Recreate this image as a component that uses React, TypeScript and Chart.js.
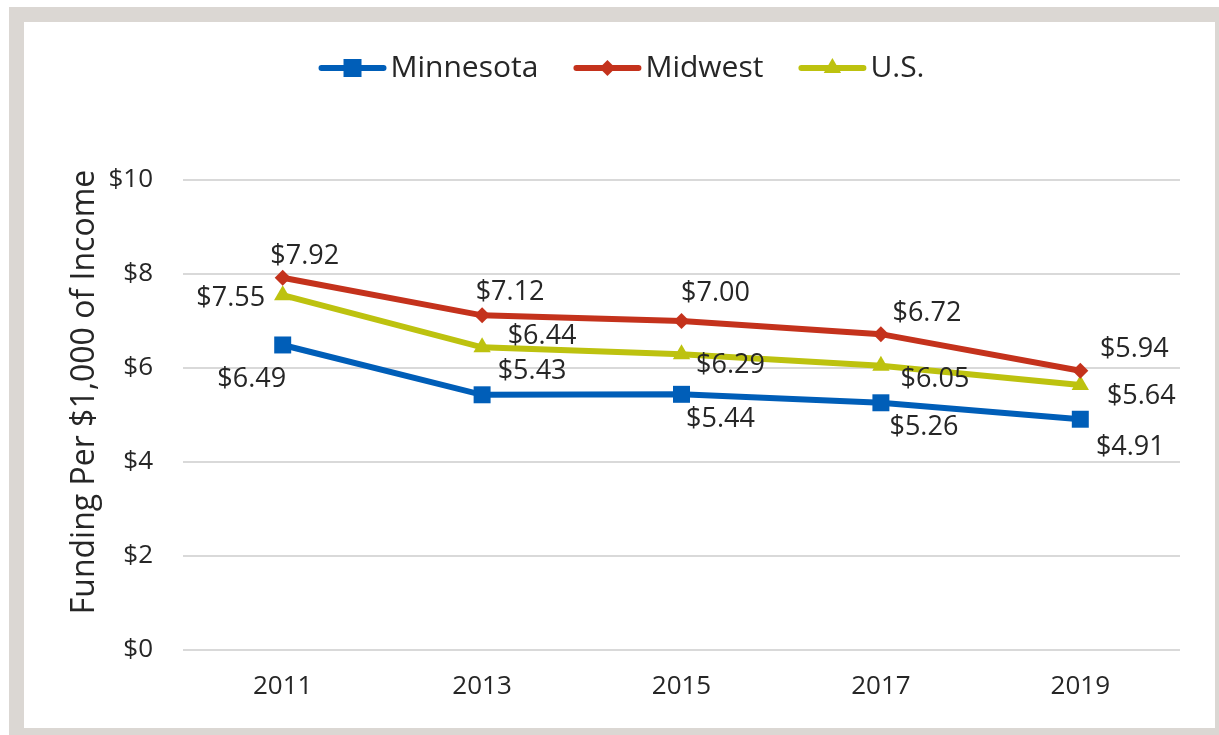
import React, { useEffect, useRef } from 'react';
import { Chart, registerables } from 'chart.js';

Chart.register(...registerables);

const categories = ['2011', '2013', '2015', '2017', '2019'];
const minnesota = [6.49, 5.43, 5.44, 5.26, 4.91];
const midwest = [7.92, 7.12, 7.0, 6.72, 5.94];
const usValues = [7.55, 6.44, 6.29, 6.05, 5.64];
const seriesNames = ['Minnesota', 'Midwest', 'U.S.'];
const yTitle = 'Funding Per $1,000 of Income';

// data-label offsets (px) from each point
const mnOffsets = [[-31, 34], [50, -23], [39, 25], [43, 25], [50, 28]];
const mwOffsets = [[22, -21], [28, -23], [34, -28], [46, -21], [54, -22]];
const usOffsets = [[-52, 3], [60, -11], [49, 11], [54, 14], [61, 11]];

const BLUE = '#005EB8';
const RED = '#C4321C';
const OLIVE = '#BDC20F';
const TEXT = '#262626';
const FONT = '"Open Sans", "Noto Sans", sans-serif';

function drawMarker(ctx: CanvasRenderingContext2D, style: string, x: number, y: number, color: string) {
  ctx.save();
  ctx.fillStyle = color;
  ctx.beginPath();
  if (style === 'rect') {
    ctx.rect(x - 9, y - 9, 18, 18);
  } else if (style === 'rectRot') {
    ctx.moveTo(x, y - 8);
    ctx.lineTo(x + 8, y);
    ctx.lineTo(x, y + 8);
    ctx.lineTo(x - 8, y);
    ctx.closePath();
  } else {
    ctx.moveTo(x, y - 10);
    ctx.lineTo(x + 8.7, y + 5);
    ctx.lineTo(x - 8.7, y + 5);
    ctx.closePath();
  }
  ctx.fill();
  ctx.restore();
}

const overlayPlugin = {
  id: 'overlay',
  afterDatasetsDraw(chart: any) {
    const ctx: CanvasRenderingContext2D = chart.ctx;
    const offsets = [mnOffsets, mwOffsets, usOffsets];
    ctx.save();
    ctx.font = `27px ${FONT}`;
    ctx.fillStyle = TEXT;
    ctx.textAlign = 'center';
    ctx.textBaseline = 'middle';
    chart.data.datasets.forEach((ds: any, i: number) => {
      const meta = chart.getDatasetMeta(i);
      meta.data.forEach((pt: any, j: number) => {
        const [dx, dy] = offsets[i][j];
        ctx.fillText('$' + Number(ds.data[j]).toFixed(2), pt.x + dx, pt.y + dy);
      });
    });
    ctx.restore();
  },
  afterDraw(chart: any) {
    const ctx: CanvasRenderingContext2D = chart.ctx;
    const area = chart.chartArea;
    // Legend
    ctx.save();
    ctx.font = `30px ${FONT}`;
    const lineLen = 68;
    const textGap = 4;
    const itemGap = 35;
    const widths = chart.data.datasets.map((ds: any) => lineLen + textGap + ctx.measureText(ds.label).width);
    const total = widths.reduce((a: number, b: number) => a + b, 0) + itemGap * (widths.length - 1);
    let x = chart.width / 2 + 2 - total / 2;
    const y = 46;
    chart.data.datasets.forEach((ds: any, i: number) => {
      ctx.strokeStyle = ds.borderColor;
      ctx.lineWidth = 6;
      ctx.lineCap = 'round';
      ctx.beginPath();
      ctx.moveTo(x + 3, y);
      ctx.lineTo(x + lineLen - 3, y);
      ctx.stroke();
      drawMarker(ctx, ds.pointStyle, x + lineLen / 2, y, ds.borderColor);
      ctx.fillStyle = TEXT;
      ctx.textAlign = 'left';
      ctx.textBaseline = 'middle';
      ctx.fillText(ds.label, x + lineLen + textGap, y);
      x += widths[i] + itemGap;
    });
    // Y title
    ctx.translate(61, (area.top + area.bottom) / 2 - 23);
    ctx.rotate(-Math.PI / 2);
    ctx.textAlign = 'center';
    ctx.textBaseline = 'middle';
    ctx.fillStyle = TEXT;
    ctx.font = `32px ${FONT}`;
    ctx.fillText(yTitle, 0, 0);
    ctx.restore();
  },
};

export default function App() {
  const ref = useRef<HTMLCanvasElement>(null);
  useEffect(() => {
    if (!ref.current) return;
    const mk = (label: string, data: number[], color: string, style: string, radius: number) => ({
      label,
      data,
      borderColor: color,
      backgroundColor: color,
      borderWidth: 6,
      pointStyle: style,
      pointRadius: radius,
      pointBorderWidth: 0,
      pointBackgroundColor: color,
      tension: 0,
    });
    const chart = new Chart(ref.current, {
      type: 'line',
      data: {
        labels: categories,
        datasets: [
          mk(seriesNames[0], minnesota, BLUE, 'rect', 12),
          mk(seriesNames[1], midwest, RED, 'rectRot', 8),
          mk(seriesNames[2], usValues, OLIVE, 'triangle', 10),
        ] as any,
      },
      options: {
        responsive: false,
        animation: false,
        layout: { padding: { top: 158, right: 35, left: 0, bottom: 0 } },
        plugins: {
          legend: { display: false },
          tooltip: { enabled: false },
          title: { display: false },
        },
        scales: {
          x: {
            offset: true,
            grid: { display: false, drawTicks: false },
            border: { display: false },
            ticks: { color: TEXT, font: { family: FONT, size: 26 }, padding: 21 },
            afterFit: (s: any) => { s.height = 78; },
          },
          y: {
            min: 0,
            max: 10,
            grid: { color: '#D9D9D9', lineWidth: 2, drawTicks: false },
            border: { display: false },
            ticks: {
              stepSize: 2,
              color: TEXT,
              font: { family: FONT, size: 26 },
              padding: 30,
              callback: (v: any) => '$' + v,
            },
            afterFit: (s: any) => { s.width = 159; },
          },
        },
      } as any,
      plugins: [overlayPlugin],
    });
    return () => chart.destroy();
  }, []);

  return (
    <div style={{ position: 'absolute', left: 0, top: 0, width: 1219, height: 735, background: '#fff', overflow: 'hidden' }}>
      <div style={{ position: 'absolute', left: 9, top: 7, width: 1210, height: 728, background: '#DBD7D3' }} />
      <div style={{ position: 'absolute', left: 24, top: 22, width: 1191, height: 706, background: '#fff' }}>
        <canvas ref={ref} width={1191} height={706} style={{ display: 'block' }} />
      </div>
    </div>
  );
}
